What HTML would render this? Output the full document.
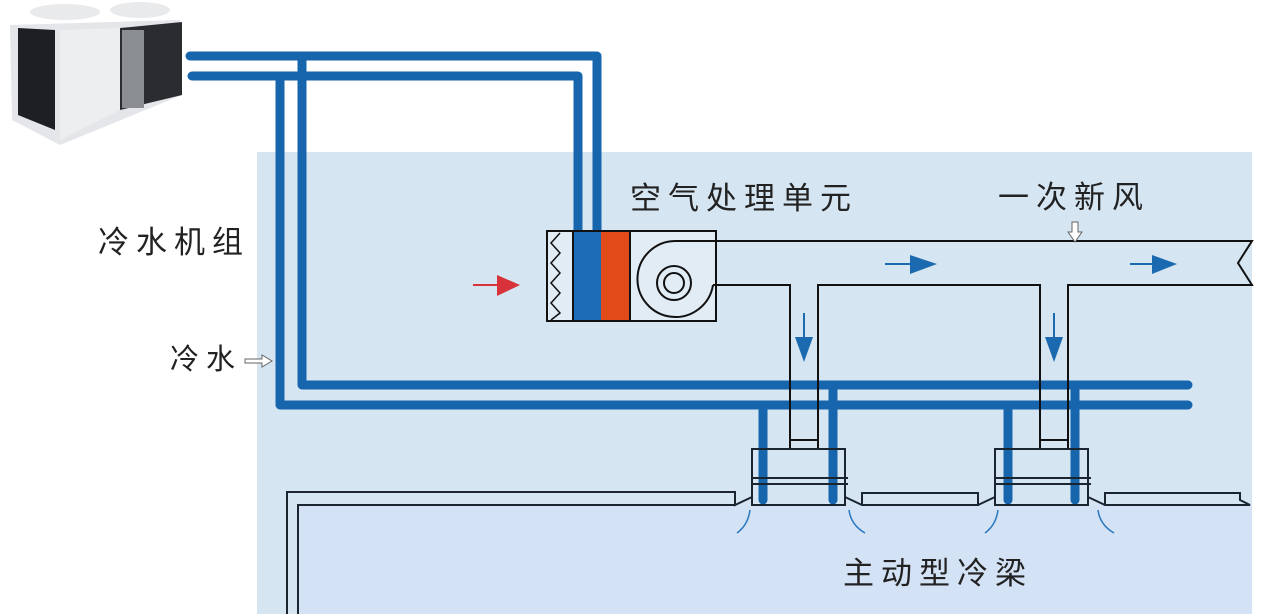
<!DOCTYPE html>
<html><head><meta charset="utf-8"><style>
html,body{margin:0;padding:0;background:#fff;width:1280px;height:614px;overflow:hidden}
svg text{font-family:"Liberation Sans","Noto Sans CJK SC",sans-serif;fill:#222;letter-spacing:7px}
</style></head><body>
<svg width="1280" height="614" viewBox="0 0 1280 614" xmlns="http://www.w3.org/2000/svg">
<rect x="257" y="152" width="995" height="462" fill="#d5e5f2"/>
<rect x="298" y="505" width="954" height="109" fill="#d3e2f4"/>
<!-- chiller -->
<g>
<ellipse cx="65" cy="12" rx="35" ry="8" fill="#e8eaec"/>
<ellipse cx="140" cy="10" rx="30" ry="8" fill="#e8eaec"/>
<polygon points="10,25 180,20 182,95 60,145 12,120" fill="#e4e6ea"/>
<polygon points="18,28 55,30 55,130 18,115" fill="#1d1f24"/>
<polygon points="120,28 182,22 182,95 120,110" fill="#2a2c30"/>
<rect x="122" y="30" width="22" height="78" fill="#8a8d92"/>
<polygon points="60,30 120,28 120,110 60,140" fill="#eceef0"/>
</g>
<!-- pipes -->
<g fill="none" stroke="#1665ad" stroke-width="9" stroke-linecap="round" stroke-linejoin="round">
<path d="M190 56 H597 V232"/>
<path d="M192 76 H578 V232"/>
<path d="M302 56 V385 H1188"/>
<path d="M280 76 V405 H1188"/>
<path d="M763 405 V500 M833 385 V500 M1008 405 V500 M1075 385 V500"/>
</g>
<!-- AHU -->
<rect x="547" y="231" width="169" height="90" fill="#e2ecf5" stroke="#111" stroke-width="2"/>
<rect x="573" y="232" width="28" height="88" fill="#1d6cb8"/>
<rect x="601" y="232" width="29" height="88" fill="#e24a1a"/>
<line x1="573" y1="231" x2="573" y2="321" stroke="#111" stroke-width="2"/>
<line x1="630" y1="231" x2="630" y2="321" stroke="#111" stroke-width="2"/>
<polyline points="560,233 551,243 560,253 551,263 560,273 551,283 560,293 551,303 560,313 551,320" fill="none" stroke="#111" stroke-width="1.5"/>
<path d="M675 241 A38 38 0 1 0 713 285" fill="none" stroke="#111" stroke-width="2"/>
<circle cx="674" cy="283" r="17" fill="none" stroke="#111" stroke-width="2"/>
<circle cx="674" cy="283" r="10" fill="none" stroke="#111" stroke-width="2"/>
<!-- red arrow -->
<line x1="473" y1="285" x2="500" y2="285" stroke="#d8323a" stroke-width="2"/>
<polygon points="497,275 520,285 497,296" fill="#d8323a"/>
<!-- duct -->
<g fill="none" stroke="#111" stroke-width="2">
<path d="M675 241 H1252 L1238 263 L1252 285 H1068 V449"/>
<path d="M713 285 H790 V449 M818 449 V285 H1040 V449"/>
<path d="M790 440 H818 M1040 440 H1068"/>
</g>
<g fill="#1b6ab0">
<line x1="885" y1="264" x2="915" y2="264" stroke="#1b6ab0" stroke-width="2"/><polygon points="910,255 937,264 910,274"/>
<line x1="1130" y1="264" x2="1155" y2="264" stroke="#1b6ab0" stroke-width="2"/><polygon points="1152,255 1177,264 1152,274"/>
<line x1="804" y1="313" x2="804" y2="340" stroke="#1b6ab0" stroke-width="2"/><polygon points="795,337 804,362 813,337"/>
<line x1="1054" y1="313" x2="1054" y2="340" stroke="#1b6ab0" stroke-width="2"/><polygon points="1045,337 1054,362 1063,337"/>
</g>
<!-- beams & ceiling -->
<g fill="none" stroke="#1a2530" stroke-width="2">
<path d="M287 614 V492 H735 V505 L752 497"/>
<path d="M298 614 V505 H735"/>
<rect x="752" y="449" width="93" height="56"/>
<path d="M752 478 H848 M752 484 H848"/>
<path d="M845 497 L862 505 H978 V493 H862 V505"/>
<rect x="995" y="449" width="93" height="56"/>
<path d="M995 478 H1091 M995 484 H1091"/>
<path d="M978 505 L995 497 M1088 497 L1105 505 H1250 L1240 500 V493 H1105 V505"/>
</g>
<g fill="none" stroke="#2a78c0" stroke-width="1.5">
<path d="M750 510 Q748 525 737 533"/><path d="M849 510 Q851 525 865 533"/>
<path d="M998 510 Q996 525 985 533"/><path d="M1098 510 Q1100 525 1114 533"/>
</g>
<!-- hollow label arrows -->
<path d="M245 359 H262 V355 L272 361 L262 367 V363 H245 Z" fill="#fff" stroke="#666" stroke-width="1"/>
<path d="M1072 222 V232 H1068 L1075 242 L1082 232 H1078 V222 Z" fill="#fff" stroke="#666" stroke-width="1"/>
<!-- labels -->
<text x="98" y="253" font-size="31">冷水机组</text>
<text x="170" y="369" font-size="29">冷水</text>
<text x="630" y="209" font-size="31">空气处理单元</text>
<text x="998" y="208" font-size="31">一次新风</text>
<text x="843" y="584" font-size="31">主动型冷梁</text>
</svg>
</body></html>
